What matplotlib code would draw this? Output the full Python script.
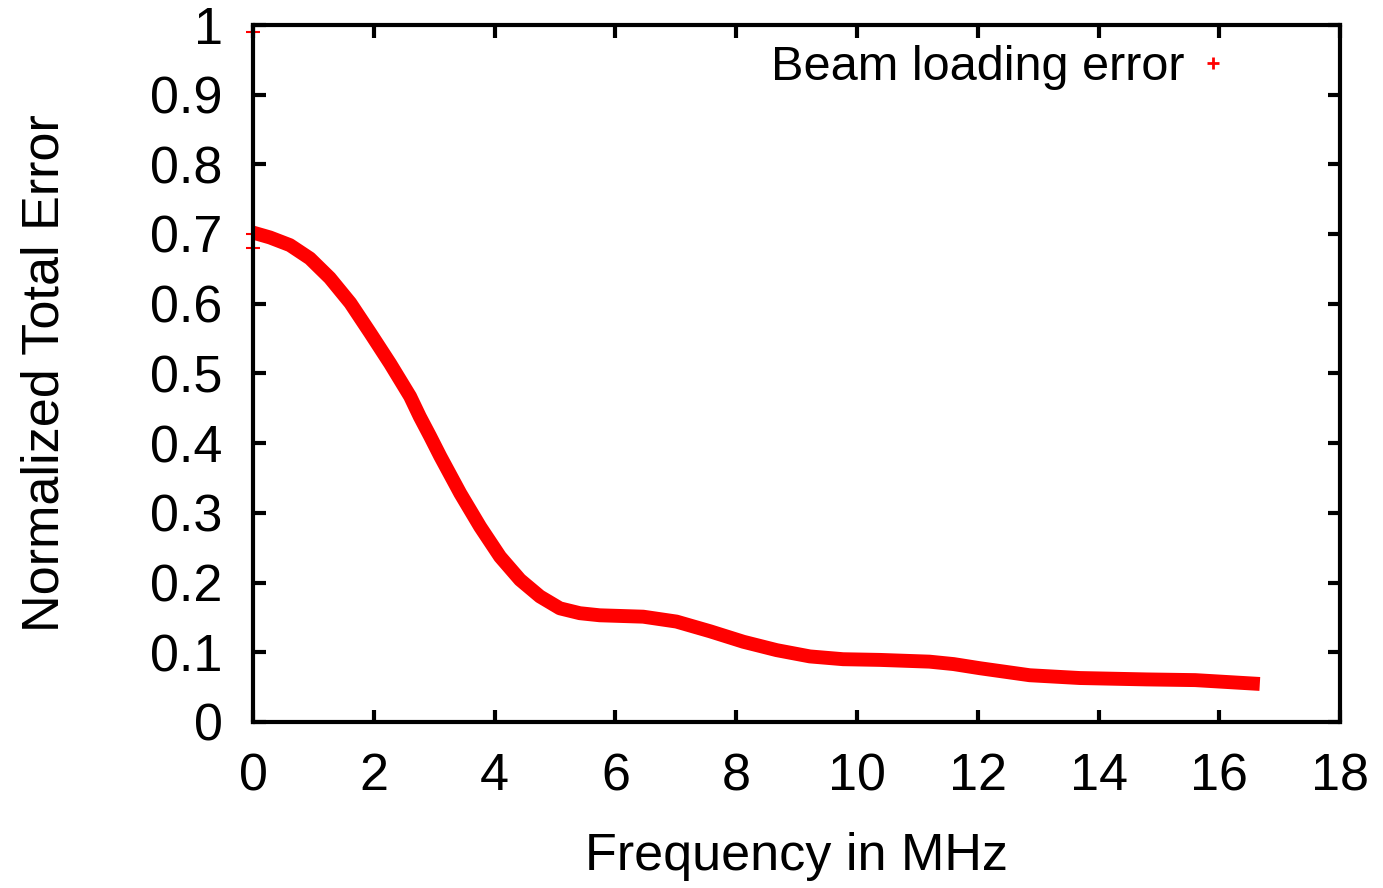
import matplotlib
matplotlib.use('Agg')
import matplotlib.pyplot as plt
from matplotlib.lines import Line2D

# values
freq_mhz = [0.0, 0.28, 0.61, 0.94, 1.27, 1.61, 1.94, 2.27, 2.60, 2.76, 2.93,
            3.10, 3.43, 3.76, 4.09, 4.42, 4.75, 5.08, 5.41, 5.74, 6.46, 7.01,
            7.57, 8.12, 8.67, 9.22, 9.77, 10.38, 11.2, 11.6, 12.04, 12.86,
            13.69, 14.8, 15.6, 16.67]
total_error = [0.702, 0.695, 0.684, 0.665, 0.637, 0.601, 0.558, 0.514, 0.467,
               0.438, 0.410, 0.381, 0.328, 0.280, 0.237, 0.204, 0.180, 0.163,
               0.156, 0.153, 0.151, 0.144, 0.130, 0.115, 0.103, 0.094, 0.090,
               0.089, 0.0865, 0.083, 0.077, 0.067, 0.063, 0.061, 0.060, 0.0545]
# stray points sitting on the y axis
stray_x = [0.0, 0.0, 0.0]
stray_y = [0.99, 0.70, 0.68]

x_ticks = [0, 2, 4, 6, 8, 10, 12, 14, 16, 18]
y_ticks = [0, 0.1, 0.2, 0.3, 0.4, 0.5, 0.6, 0.7, 0.8, 0.9, 1]
y_labels = ['0', '0.1', '0.2', '0.3', '0.4', '0.5', '0.6', '0.7', '0.8', '0.9', '1']

plt.rcParams['font.family'] = ['Liberation Sans', 'DejaVu Sans']

fig = plt.figure(figsize=(13.83, 8.88), dpi=100)
ax = fig.add_axes([0.183, 0.187, 0.786, 0.785])

ax.plot(freq_mhz, total_error, color='red', linewidth=10,
        solid_capstyle='butt', solid_joinstyle='round', zorder=2)
ax.plot(stray_x, stray_y, linestyle='none', marker='+', color='red',
        markersize=10, markeredgewidth=1.5, clip_on=False, zorder=1)

ax.set_xlim(0, 18)
ax.set_ylim(0, 1)
ax.set_xticks(x_ticks)
ax.set_yticks(y_ticks)
ax.set_yticklabels(y_labels)

for sp in ax.spines.values():
    sp.set_linewidth(3)
ax.tick_params(direction='in', length=9, width=3, labelsize=37.5,
               top=True, right=True)
ax.tick_params(axis='x', pad=22)
ax.tick_params(axis='y', pad=22)

ax.set_xlabel('Frequency in MHz', fontsize=37.5, labelpad=22)
ax.set_ylabel('Normalized Total Error', fontsize=37.5, labelpad=58)

handle = Line2D([], [], linestyle='none', marker='+', color='red',
                markersize=8, markeredgewidth=2)
ax.legend([handle], ['Beam loading error'], loc='upper right', frameon=False,
          markerfirst=False, fontsize=35, handletextpad=0.1,
          handlelength=1.0, bbox_to_anchor=(0.946, 1.034))

plt.savefig('out.png', dpi=100)
plt.close()
